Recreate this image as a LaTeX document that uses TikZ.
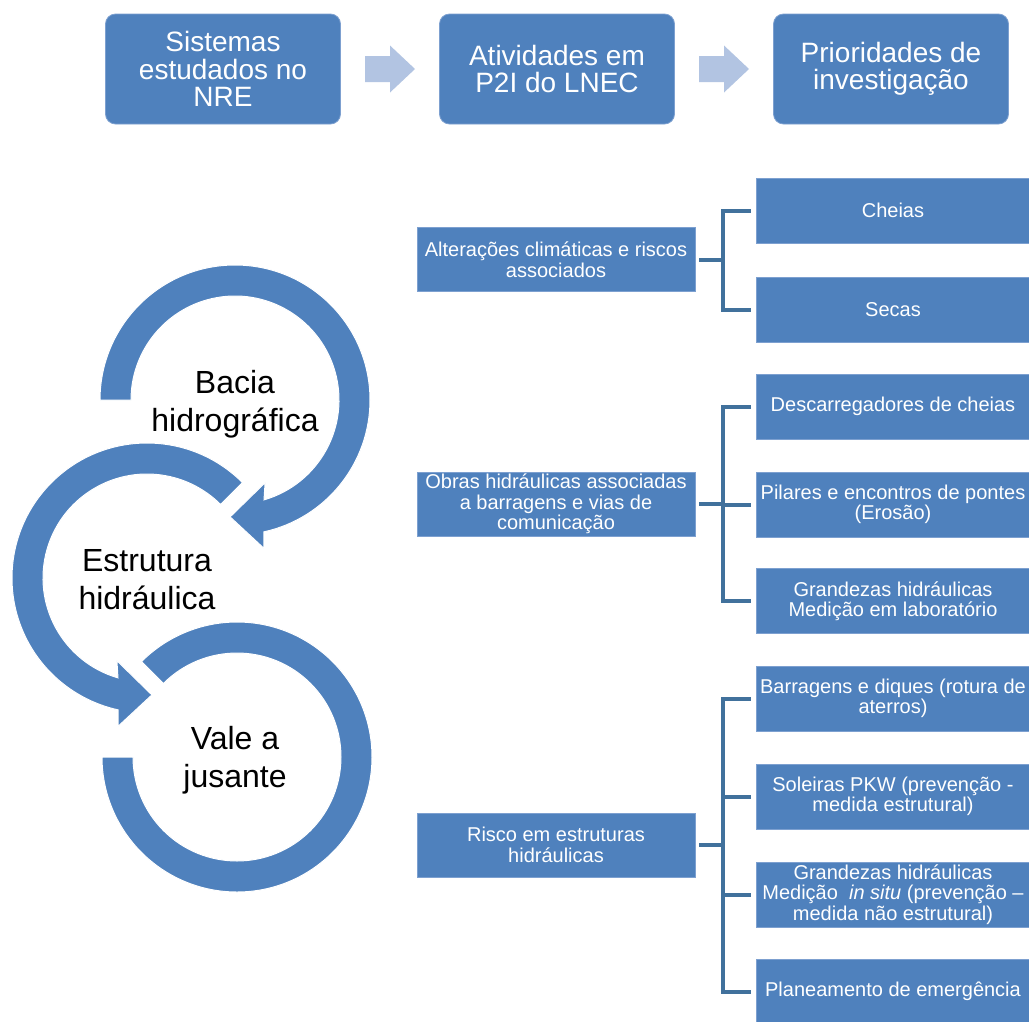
\documentclass[tikz,border=0pt]{standalone}
\usepackage{fontspec}
\setmainfont{Liberation Sans}
\usetikzlibrary{calc}
\definecolor{nblue}{RGB}{79,129,189}
\definecolor{lblue}{RGB}{178,196,226}
\definecolor{bline}{RGB}{65,113,156}
\definecolor{bedge}{RGB}{125,160,208}
\newcommand{\myTop}{\fontsize{28}{27.5}\selectfont}
\newcommand{\myBox}{\fontsize{20}{20.5}\selectfont}
\newcommand{\myCirc}{\fontsize{32}{38.5}\selectfont}
\begin{document}
\begin{tikzpicture}[x=1pt,y=-1pt,
  topbox/.style={fill=nblue, draw=bedge, line width=0.8pt, rounded corners=10pt,
    minimum width=235pt, minimum height=110pt, inner sep=0pt, text=white,
    font=\myTop, align=center},
  midbox/.style={fill=nblue, draw=bedge, line width=0.8pt, minimum width=278pt,
    minimum height=64pt, inner sep=0pt, text=white, font=\myBox, align=center},
  subbox/.style={midbox, minimum width=274pt, minimum height=65pt},
  flow/.style={fill=lblue},
  brk/.style={draw=bline, line width=4pt, line join=miter, shorten <=4pt, shorten >=5pt},
  ring/.style={fill=nblue, draw=white, line width=1pt},
  ctext/.style={font=\myCirc, align=center, inner sep=0pt, text=black}
]
\clip (0,0) rectangle (1029,1021);
\fill[white] (0,0) rectangle (1029,1021);

% top row
\node[topbox] (s1) at (223,69) {Sistemas\\estudados no\\NRE};
\node[topbox] (s2) at (557,69) {Atividades em\\P2I do LNEC};
\node[topbox] (s3) at (891,69) {Prioridades de\\investigação};
\foreach \a/\b in {s1/s2, s2/s3}
  \fill[flow] ($(\a.east)!0.5!(\b.west)$) ++(-25,-13) -- ++(25,0) -- ++(0,-10.5)
    -- ++(25,23.5) -- ++(-25,23.5) -- ++(0,-10.5) -- ++(-25,0) -- cycle;

% circular arrows
\coordinate (cA) at (235,400);
\coordinate (cB) at (147,578);
\coordinate (cC) at (237,757);
\path[ring] ($(cA)+(-180:135)$) arc[start angle=-180, end angle=77.6, radius=135]
  -- ($(cA)+(79:151)$) -- ($(cA)+(92.4:117)$) -- ($(cA)+(70:88)$)
  -- ($(cA)+(73.8:104)$) arc[start angle=73.8, end angle=-180, radius=104] -- cycle;
\path[ring] ($(cB)+(-45:135)$) arc[start angle=-45, end angle=-257.6, radius=135]
  -- ($(cB)+(-259:151)$) -- ($(cB)+(-272.4:117)$) -- ($(cB)+(-250:88)$)
  -- ($(cB)+(-253.8:104)$) arc[start angle=-253.8, end angle=-45, radius=104] -- cycle;
\path[ring] ($(cC)+(-180:135)$) arc[start angle=-180, end angle=-495, radius=135]
  -- ($(cC)+(-495:104)$) arc[start angle=-495, end angle=-180, radius=104] -- cycle;
\node[ctext] (tA) at (235,404.4) {Bacia\\hidrográfica};
\node[ctext] (tB) at (147,579.5) {Estrutura\\hidráulica};
\node[ctext] (tC) at (235,760.4) {Vale a\\jusante};

% middle column
\node[midbox] (m1) at (556,259.5) {Alterações climáticas e riscos\\associados};
\node[midbox] (m2) at (556,504) {Obras hidráulicas associadas\\a barragens e vias de\\comunicação};
\node[midbox] (m3) at (556,845) {Risco em estruturas\\hidráulicas};

% right column
\node[subbox] (c1) at (893,210.5) {Cheias};
\node[subbox] (c2) at (893,309.5) {Secas};
\node[subbox] (c3) at (893,406.5) {Descarregadores de cheias};
\node[subbox] (c4) at (893,504.5) {Pilares e encontros de pontes\\(Erosão)};
\node[subbox] (c5) at (893,601) {Grandezas hidráulicas\\Medição em laboratório};
\node[subbox] (c6) at (893,698.5) {Barragens e diques (rotura de\\aterros)};
\node[subbox] (c7) at (893,796.5) {Soleiras PKW (prevenção -\\medida estrutural)};
\node[subbox] (c8) at (893,894.5) {Grandezas hidráulicas\\Medição\ \ \textit{in situ} (prevenção –\\medida não estrutural)};
\node[subbox] (c9) at (893,991.5) {Planeamento de emergência};

% brackets
\foreach \m/\c in {m1/c1, m1/c2, m2/c3, m2/c4, m2/c5, m3/c6, m3/c7, m3/c8, m3/c9}
  \draw[brk] (\m.east) -- ++(28,0) |- (\c.west);
\end{tikzpicture}
\end{document}
